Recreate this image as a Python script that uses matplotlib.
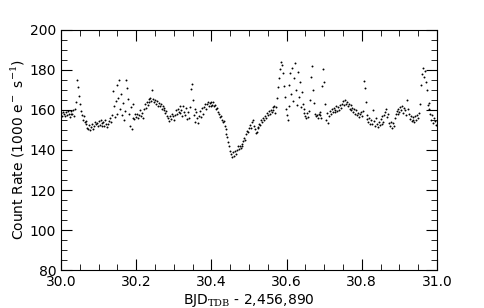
import numpy as np
import matplotlib
matplotlib.use("Agg")
import matplotlib.pyplot as plt
from matplotlib.ticker import MultipleLocator

plt.rcParams['mathtext.fontset'] = 'custom'
plt.rcParams['mathtext.rm'] = 'DejaVu Serif'

# light curve, one point every 0.0025 d in 0.1 d chunks
t_start = 30.0
cadence = 0.0025

flux_300 = [158.5, 157.2, 159.0, 158.1, 156.8, 158.9, 157.5, 159.3, 158.0, 156.5,
            157.8, 159.6, 158.2, 160.1, 157.0, 160.5, 164.0, 175.0, 171.5, 167.0,
            163.0, 159.5, 157.5, 155.2, 156.8, 154.0, 152.8, 154.5, 151.2, 150.5,
            152.6, 149.8, 151.5, 153.0, 150.6, 152.2, 154.1, 152.8, 153.6, 151.9]
flux_301 = [154.3, 152.5, 155.0, 153.4, 151.8, 153.9, 152.2, 154.8, 153.1, 151.5,
            152.9, 154.6, 156.0, 153.8, 157.5, 169.5, 162.0, 156.5, 164.5, 158.0,
            172.5, 166.0, 175.0, 160.5, 168.0, 157.5, 163.5, 155.0, 159.5, 174.8,
            171.0, 165.5, 158.0, 152.0, 161.5, 150.5, 156.0, 163.0, 155.5, 158.0]
flux_302 = [156.5, 158.2, 155.8, 157.5, 159.8, 157.0, 158.5, 156.2, 160.5, 162.8,
            161.2, 164.0, 162.5, 165.3, 163.8, 166.0, 164.5, 170.0, 165.5, 163.8,
            165.2, 163.0, 164.6, 162.2, 163.5, 161.8, 162.8, 160.5, 161.9, 159.8,
            160.9, 158.5, 159.6, 157.2, 156.0, 154.5, 156.8, 155.5, 158.0, 157.0]
flux_303 = [155.2, 157.5, 159.8, 158.2, 160.5, 159.0, 161.8, 158.5, 160.2, 156.8,
            162.0, 159.2, 157.5, 160.8, 155.5, 158.8, 156.2, 161.5, 170.5, 172.8,
            165.0, 157.5, 160.5, 154.2, 158.8, 156.0, 153.5, 157.2, 159.5, 156.5,
            160.8, 158.2, 161.5, 163.2, 160.5, 162.8, 164.0, 161.8, 163.5, 162.0]
flux_304 = [163.8, 162.5, 164.2, 161.8, 162.6, 160.5, 161.2, 159.0, 158.2, 156.5,
            157.0, 155.2, 153.8, 154.5, 152.0, 150.5, 148.0, 146.5, 144.0, 142.2,
            139.5, 137.8, 136.5, 138.8, 137.2, 139.5, 138.0, 140.2, 141.8, 140.5,
            142.0, 141.2, 143.0, 142.2, 144.5, 146.0, 145.2, 147.8, 149.5, 148.8]
flux_305 = [151.0, 152.5, 151.2, 153.8, 155.0, 152.2, 150.5, 148.5, 149.2, 151.5,
            150.8, 153.0, 152.5, 154.8, 153.8, 156.0, 155.2, 157.0, 156.2, 158.5,
            157.5, 159.5, 158.2, 160.2, 159.0, 161.5, 160.0, 162.0, 158.5, 161.5,
            166.0, 171.5, 176.0, 180.5, 184.0, 182.5, 178.5, 172.0, 166.5, 160.5]
flux_306 = [157.5, 155.0, 162.0, 172.5, 178.5, 168.0, 181.0, 164.5, 176.0, 183.5,
            170.0, 162.5, 179.0, 166.5, 174.0, 161.5, 169.0, 163.0, 158.5, 160.5,
            157.0, 156.0, 158.5, 156.5, 159.5, 165.0, 176.5, 182.0, 170.0, 163.5,
            158.0, 156.8, 157.5, 156.2, 158.0, 159.0, 157.5, 156.0, 172.0, 180.5]
flux_307 = [174.0, 163.0, 155.0, 158.5, 153.5, 157.0, 159.5, 158.0, 160.5, 159.2,
            161.0, 158.8, 160.2, 162.0, 159.5, 161.5, 160.0, 162.5, 161.0, 163.0,
            164.5, 162.5, 165.0, 163.2, 164.0, 161.8, 163.0, 160.5, 162.5, 160.0,
            161.2, 159.0, 160.5, 158.2, 159.8, 157.5, 158.5, 156.5, 157.8, 158.8]
flux_308 = [157.0, 159.5, 174.5, 171.0, 164.0, 155.5, 157.5, 154.0, 156.2, 152.8,
            155.0, 153.2, 160.0, 154.5, 152.0, 155.8, 153.0, 151.5, 154.2, 152.5,
            155.5, 153.0, 156.8, 154.0, 157.5, 159.0, 160.5, 156.5, 158.2, 153.5,
            151.8, 154.0, 150.8, 153.5, 152.2, 156.0, 157.8, 159.5, 158.0, 160.5]
flux_309 = [159.2, 161.5, 160.0, 162.2, 158.5, 161.0, 159.8, 157.5, 165.0, 160.5,
            157.8, 155.5, 157.0, 154.5, 156.5, 155.0, 153.8, 156.8, 155.2, 157.5,
            156.0, 158.5, 163.0, 172.5, 178.0, 181.0, 176.5, 179.5, 174.0, 170.0,
            162.5, 160.5, 163.5, 158.0, 155.0, 157.5, 153.5, 156.0, 154.5, 152.5]

flux = np.array(flux_300 + flux_301 + flux_302 + flux_303 + flux_304 +
                flux_305 + flux_306 + flux_307 + flux_308 + flux_309)
time = t_start + cadence * np.arange(len(flux))

fig = plt.figure(figsize=(4.85, 3.08), dpi=100)
ax = fig.add_axes([0.126, 0.123, 0.775, 0.780])

ax.plot(time, flux, 'k.', ms=2.8, mew=0)

ax.set_xlim(30.0, 31.0)
ax.set_ylim(80, 200)
ax.xaxis.set_major_locator(MultipleLocator(0.2))
ax.xaxis.set_minor_locator(MultipleLocator(0.05))
ax.yaxis.set_major_locator(MultipleLocator(20))
ax.yaxis.set_minor_locator(MultipleLocator(5))
ax.tick_params(which='both', direction='in', top=True, right=True, labelsize=10)
ax.tick_params(which='major', length=8)
ax.tick_params(which='minor', length=4)

ax.set_xlabel(r'BJD$_{\rm TDB}$ - 2,456,890', fontsize=10, labelpad=2)
ax.set_ylabel(r'Count Rate (1000 e$^-$ s$^{-1}$)', fontsize=10, labelpad=2)

fig.savefig('out.png', dpi=100)
